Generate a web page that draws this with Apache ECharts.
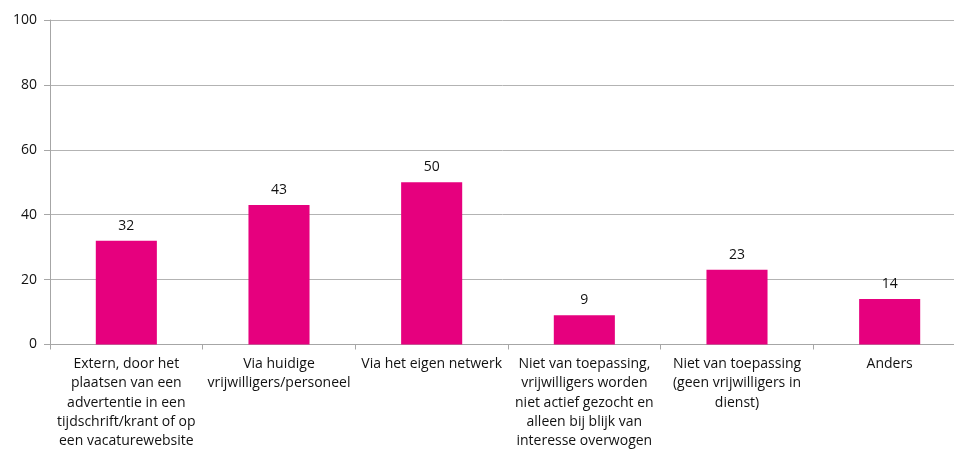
<!DOCTYPE html>
<html><head><meta charset="utf-8">
<script src="https://cdn.jsdelivr.net/npm/echarts@6/dist/echarts.min.js"></script>
<style>html,body{margin:0;padding:0;background:#fff}#c{width:954px;height:450px}</style>
</head><body><div id="c"></div>
<script>
const categories = [
  "Extern, door het\nplaatsen van een\nadvertentie in een\ntijdschrift/krant of op\neen vacaturewebsite",
  "Via huidige\nvrijwilligers/personeel",
  "Via het eigen netwerk",
  "Niet van toepassing,\nvrijwilligers worden\nniet actief gezocht en\nalleen bij blijk van\ninteresse overwogen",
  "Niet van toepassing\n(geen vrijwilligers in\ndienst)",
  "Anders"
];
const values = [32, 43, 50, 9, 23, 14];
const yTicks = { min: 0, max: 100, interval: 20 };

const chart = echarts.init(document.getElementById('c'));
chart.setOption({
  animation: false,
  textStyle: { fontFamily: 'Open Sans' },
  grid: { left: 50, top: 20, width: 916, height: 324.5, containLabel: false, outerBoundsMode: 'none' },
  xAxis: {
    type: 'category',
    data: categories,
    axisLine: { lineStyle: { color: '#a6a6a6', width: 1 } },
    axisTick: { show: true, alignWithLabel: false, length: 5, lineStyle: { color: '#a6a6a6' } },
    axisLabel: { color: '#111', fontSize: 14, lineHeight: 19.3, margin: 10, interval: 0, align: 'center', verticalAlign: 'top' }
  },
  yAxis: {
    type: 'value',
    min: yTicks.min, max: yTicks.max, interval: yTicks.interval,
    axisLine: { show: true, lineStyle: { color: '#a6a6a6' } },
    axisTick: { show: true, length: 6, lineStyle: { color: '#a6a6a6' } },
    splitLine: { lineStyle: { color: '#b3b3b3', width: 1 } },
    axisLabel: { color: '#111', fontSize: 14, margin: 13 }
  },
  series: [{
    type: 'bar',
    data: values,
    barWidth: '40%',
    itemStyle: { color: '#E6007E' },
    label: { show: true, position: 'top', distance: 8, color: '#111', fontSize: 14 }
  }]
});
</script></body></html>
